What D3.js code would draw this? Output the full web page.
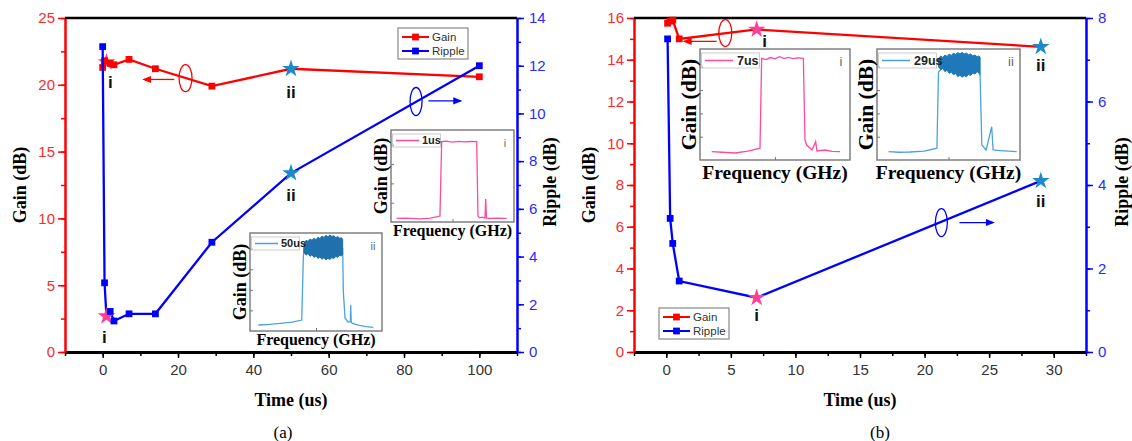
<!DOCTYPE html>
<html>
<head>
<meta charset="utf-8">
<script src="https://cdn.jsdelivr.net/npm/d3@7"></script>
<style>
  body { margin: 0; background: #fff; }
  svg text { font-family: "Liberation Sans", Arial, sans-serif; }
  svg text.serif { font-family: "Liberation Serif", "Times New Roman", serif; font-weight: bold; }
</style>
</head>
<body>
<div id="chart"></div>
<script>
// ---- panel (a) ----
const timeA   = [0, 0.5, 1, 2, 3, 7, 14, 29, 50, 100];
const gainA   = [21.3, 21.8, 21.7, 21.6, 21.5, 21.9, 21.2, 19.9, 21.2, 20.6];
const rippleA = [12.8, 2.9, 1.5, 1.7, 1.3, 1.6, 1.6, 4.6, 7.5, 12.0];
const starTimesA = [1, 50];
const timeTicksA = [0, 20, 40, 60, 80, 100];
const gainTicksA = [0, 5, 10, 15, 20, 25];
const rippleTicksA = [0, 2, 4, 6, 8, 10, 12, 14];

// ---- panel (b) ----
const timeB   = [0.1, 0.3, 0.5, 1, 7, 29];
const gainB   = [15.75, 15.85, 15.9, 15.0, 15.45, 14.62];
const rippleB = [7.5, 3.2, 2.6, 1.7, 1.3, 4.1];
const starTimesB = [7, 29];
const timeTicksB = [0, 5, 10, 15, 20, 25, 30];
const gainTicksB = [0, 2, 4, 6, 8, 10, 12, 14, 16];
const rippleTicksB = [0, 2, 4, 6, 8];

const starNames = ["i", "ii"];
const seriesNames = ["Gain", "Ripple"];

// ---- inset spectra (relative frequency / relative gain, 0-100) ----
const specAiF = [4.6, 12, 23.6, 32, 39.8, 41.2, 45, 50, 55, 60, 65, 69.7, 70.7, 72, 74, 76.4, 77, 77.6, 80, 86, 94];
const specAiG = [4, 4.3, 3.3, 4.2, 6.5, 87.3, 87.8, 86.9, 87.6, 87.1, 87.5, 87.3, 6.5, 4.5, 5.2, 4.3, 25, 4.3, 3.8, 4.2, 4];

const specAiiF = [6.3, 15, 22.7, 32, 39.2, 40.4, 40.9, 45, 50, 55, 60, 65, 70.2, 70.7, 72, 74.2, 76, 76.3, 76.7, 77.3, 82, 88, 93.4];
const specAiiG = [6.1, 6.8, 7.7, 9, 11.2, 75, 85, 86, 84, 85, 86, 85, 84, 40, 13.3, 9.2, 9.5, 26.5, 9.5, 8, 6, 4.5, 3.8];
const bandAiiF  = [40.9, 42.5, 44, 45.5, 47, 48.5, 50, 51.5, 53, 54.5, 56, 57.5, 59, 60.5, 62, 63.5, 65, 66.5, 68, 69.2, 70.2];
const bandAiiHi = [89, 92.5, 91.5, 93.8, 92.6, 94.5, 93.2, 95.6, 94.4, 96.8, 95.5, 97.6, 96.2, 97.9, 96.5, 97.2, 95.4, 96.3, 94.6, 95.2, 93.5];
const bandAiiLo = [80, 77.5, 79, 76.2, 77.8, 75, 76.6, 74, 75.6, 73.2, 74.8, 72.6, 74.2, 73, 74.8, 74, 76, 75.2, 77.3, 76.5, 78];

const specBiF = [7.8, 15, 23.3, 32, 40, 41.1, 44, 47, 50, 53, 56, 59, 62, 65, 68.9, 70, 71.1, 74.7, 77.1, 78, 83.3, 88, 93.3];
const specBiG = [7.5, 7, 6.3, 8, 10.6, 91.6, 90.5, 92.3, 91.2, 93, 91.4, 92.4, 91.3, 92, 91.6, 18, 13.5, 9, 16.5, 8.1, 9, 7.8, 7.5];

const specBiiF = [8.1, 15, 23.2, 33, 41.9, 43, 45, 50, 55, 60, 65, 70, 72.1, 73.3, 76.3, 80.2, 81.2, 86, 92, 97.7];
const specBiiG = [7.5, 7, 7.2, 8, 10.6, 79.3, 82, 83, 82, 81, 82, 83, 76.6, 13.5, 9, 30, 9, 8.5, 8, 7.5];
const bandBiiF  = [43, 44.5, 46, 47.5, 49, 50.5, 52, 53.5, 55, 56.5, 58, 59.5, 61, 62.5, 64, 65.5, 67, 68.5, 70, 71.2, 72.1];
const bandBiiHi = [91.5, 93.6, 92.4, 94.5, 93.3, 95.4, 94.2, 96.3, 95, 96.8, 95.6, 97, 95.5, 96.4, 94.8, 95.6, 93.8, 94.6, 93, 93.8, 92.5];
const bandBiiLo = [84, 81.5, 82.6, 79.6, 80.8, 78, 79.2, 76.8, 78, 75.2, 76.4, 74.5, 76, 75, 77, 76.2, 78.4, 77.5, 79.6, 78.5, 77];

const RED = "#ff0000", BLUE = "#0000ff", PINK = "#ff3f96", STEEL = "#1e88cc";

const svg = d3.select("#chart").append("svg")
    .attr("width", 1132)
    .attr("height", 441);

const defs = svg.append("defs");
[["arrRed", RED], ["arrBlue", BLUE]].forEach(([id, c]) => {
  defs.append("marker").attr("id", id)
      .attr("viewBox", "0 0 10 10").attr("refX", 8).attr("refY", 5)
      .attr("markerWidth", 7).attr("markerHeight", 7).attr("orient", "auto")
    .append("path").attr("d", "M0,1 L10,5 L0,9 Z").attr("fill", c);
});

function styleAxis(sel, color, textColor, width) {
  sel.select(".domain").attr("stroke", color).attr("stroke-width", width);
  sel.selectAll(".tick line").attr("stroke", color).attr("stroke-width", 1.5);
  sel.selectAll(".tick text").attr("fill", textColor).style("font-size", "15px");
}

function drawPanel(p) {
  const g = svg.append("g");
  const x = d3.scaleLinear().domain(p.tDom).range([p.x0, p.x1]);
  const yG = d3.scaleLinear().domain(p.gDom).range([p.y1, p.y0]);
  const yR = d3.scaleLinear().domain(p.rDom).range([p.y1, p.y0]);

  // minor ticks
  g.append("g").attr("transform", "translate(0," + p.y1 + ")")
      .call(d3.axisBottom(x).tickValues(d3.range(p.tDom[0], p.tDom[1] + 1e-6, p.tMinor)).tickSize(4).tickSizeOuter(0).tickFormat(""))
      .call(s => styleAxis(s, "#000", "#333", 0));
  g.append("g").attr("transform", "translate(" + p.x0 + ",0)")
      .call(d3.axisLeft(yG).tickValues(d3.range(p.gDom[0], p.gDom[1] + 1e-6, p.gMinor)).tickSize(4).tickSizeOuter(0).tickFormat(""))
      .call(s => styleAxis(s, RED, RED, 0));
  g.append("g").attr("transform", "translate(" + p.x1 + ",0)")
      .call(d3.axisRight(yR).tickValues(d3.range(p.rDom[0], p.rDom[1] + 1e-6, p.rMinor)).tickSize(4).tickSizeOuter(0).tickFormat(""))
      .call(s => styleAxis(s, BLUE, BLUE, 0));

  // major axes
  g.append("g").attr("transform", "translate(0," + p.y1 + ")")
      .call(d3.axisBottom(x).tickValues(p.tTicks).tickSize(6).tickPadding(6).tickSizeOuter(0))
      .call(s => styleAxis(s, "#000", "#333", 3));
  g.append("g").attr("transform", "translate(" + p.x0 + ",0)")
      .call(d3.axisLeft(yG).tickValues(p.gTicks).tickSize(7).tickPadding(3).tickSizeOuter(0))
      .call(s => styleAxis(s, RED, "#ff2a2a", 2.5));
  g.append("g").attr("transform", "translate(" + p.x1 + ",0)")
      .call(d3.axisRight(yR).tickValues(p.rTicks).tickSize(7).tickPadding(5).tickSizeOuter(0))
      .call(s => styleAxis(s, BLUE, "#2a2aff", 2.5));

  g.append("line")
      .attr("x1", p.x0).attr("x2", p.x1).attr("y1", p.y0).attr("y2", p.y0)
      .attr("stroke", "#000").attr("stroke-width", 2.5);

  // axis titles
  g.append("text").attr("class", "serif")
      .attr("transform", "translate(" + p.gTitleX + ",185) rotate(-90)")
      .attr("text-anchor", "middle").style("font-size", "18px").text("Gain (dB)");
  g.append("text").attr("class", "serif")
      .attr("transform", "translate(" + p.rTitleX + ",182) rotate(-90)")
      .attr("text-anchor", "middle").style("font-size", "18px").text("Ripple (dB)");
  g.append("text").attr("class", "serif")
      .attr("x", p.timeTitleX).attr("y", 406)
      .attr("text-anchor", "middle").style("font-size", "18px").text("Time (us)");
  g.append("text").attr("class", "serif")
      .attr("x", p.tagX).attr("y", 438).style("font-weight", "normal")
      .attr("text-anchor", "middle").style("font-size", "17px").text(p.tag);

  const rowsG = p.time.map((t, i) => ({t: t, v: p.gain[i]}));
  const rowsR = p.time.map((t, i) => ({t: t, v: p.ripple[i]}));
  const sq = d3.symbol().type(d3.symbolSquare).size(46);
  const star = d3.symbol().type(d3.symbolStar).size(95);

  [[rowsG, yG, RED], [rowsR, yR, BLUE]].forEach(([rows, y, c]) => {
    g.append("path").datum(rows)
        .attr("fill", "none").attr("stroke", c).attr("stroke-width", 2.3)
        .attr("d", d3.line().x(d => x(d.t)).y(d => y(d.v)));
    g.selectAll(null)
        .data(rows.filter(d => p.stars.includes(d.t)))
        .enter().append("path")
        .attr("transform", d => "translate(" + x(d.t) + "," + y(d.v) + ")")
        .attr("d", star)
        .attr("fill", d => p.stars.indexOf(d.t) === 0 ? PINK : STEEL);
    g.selectAll(null)
        .data(rows.filter(d => !p.stars.includes(d.t)))
        .enter().append("path")
        .attr("transform", d => "translate(" + x(d.t) + "," + y(d.v) + ")")
        .attr("d", sq).attr("fill", c);
  });

  // i / ii labels below the stars
  p.stars.forEach((t, k) => {
    const i = p.time.indexOf(t);
    [[yG(p.gain[i]), p.labOffG[k]], [yR(p.ripple[i]), p.labOffR[k]]].forEach(([yy, off]) => {
      g.append("text")
          .attr("x", x(t) + off[0]).attr("y", yy + off[1])
          .attr("text-anchor", "middle")
          .style("font-size", "17px").style("font-weight", "bold").attr("fill", "#111")
          .text(starNames[k]);
    });
  });

  // ellipse + arrow annotations
  g.append("ellipse").attr("cx", x(p.gEll[0])).attr("cy", yG(p.gEll[1]))
      .attr("rx", 6.5).attr("ry", 13.5).attr("fill", "none").attr("stroke", RED).attr("stroke-width", 1.3);
  g.append("line")
      .attr("x1", x(p.gArr[0])).attr("x2", x(p.gArr[1])).attr("y1", yG(p.gArr[2])).attr("y2", yG(p.gArr[2]))
      .attr("stroke", RED).attr("stroke-width", 1.3).attr("marker-end", "url(#arrRed)");
  g.append("ellipse").attr("cx", x(p.rEll[0])).attr("cy", yR(p.rEll[1]))
      .attr("rx", 6).attr("ry", 14).attr("fill", "none").attr("stroke", BLUE).attr("stroke-width", 1.3);
  g.append("line")
      .attr("x1", x(p.rArr[0])).attr("x2", x(p.rArr[1])).attr("y1", yR(p.rArr[2])).attr("y2", yR(p.rArr[2]))
      .attr("stroke", BLUE).attr("stroke-width", 1.3).attr("marker-end", "url(#arrBlue)");

  // legend
  const lg = g.append("g").attr("transform", "translate(" + p.legend[0] + "," + p.legend[1] + ")");
  lg.append("rect").attr("width", 70).attr("height", 31)
      .attr("fill", "#fff").attr("stroke", "#888").attr("stroke-width", 1.2);
  [RED, BLUE].forEach((c, k) => {
    const yy = 9 + k * 14;
    lg.append("line").attr("x1", 4).attr("x2", 31).attr("y1", yy).attr("y2", yy)
        .attr("stroke", c).attr("stroke-width", 2);
    lg.append("path").attr("transform", "translate(17.5," + yy + ")").attr("d", sq).attr("fill", c);
    lg.append("text").attr("x", 34).attr("y", yy + 4)
        .style("font-size", "11.5px").attr("fill", "#333").text(seriesNames[k]);
  });
}

function drawInset(box, f, gv, band, color, bandColor, tag, mark, big) {
  const gi = svg.append("g");
  const fx = d3.scaleLinear().domain([0, 100]).range([box.x, box.x + box.w]);
  const fy = d3.scaleLinear().domain([0, 100]).range([box.y + box.h, box.y]);
  gi.append("rect").attr("x", box.x).attr("y", box.y).attr("width", box.w).attr("height", box.h)
      .attr("fill", "#fff").attr("stroke", "#777").attr("stroke-width", 1.4);
  const ax = gi.append("g").attr("transform", "translate(" + box.x + ",0)")
      .call(d3.axisRight(fy).tickValues([21, 42, 63, 84]).tickSize(3).tickFormat(""));
  ax.select(".domain").remove();
  ax.selectAll("line").attr("stroke", "#777");
  const bx = gi.append("g").attr("transform", "translate(0," + (box.y + box.h) + ")")
      .call(d3.axisTop(fx).tickValues([50]).tickSize(3).tickFormat(""));
  bx.select(".domain").remove();
  bx.selectAll("line").attr("stroke", "#777");

  const rows = f.map((v, i) => ({f: v, g: gv[i]}));
  gi.append("path").datum(rows)
      .attr("fill", "none").attr("stroke", color).attr("stroke-width", 1.3)
      .attr("d", d3.line().x(d => fx(d.f)).y(d => fy(d.g)));
  if (band) {
    const brow = band[0].map((v, i) => ({f: v, hi: band[1][i], lo: band[2][i]}));
    gi.append("path").datum(brow)
        .attr("fill", bandColor).attr("stroke", bandColor).attr("stroke-width", 1)
        .attr("d", d3.area().x(d => fx(d.f)).y0(d => fy(d.lo)).y1(d => fy(d.hi)));
  }

  // legend inside inset
  const fs = big ? 12.5 : 11;
  const lw = big ? 58 : 48, lh = big ? 15 : 13;
  gi.append("rect").attr("x", box.x + 1.5).attr("y", box.y + 4).attr("width", lw).attr("height", lh)
      .attr("fill", "none").attr("stroke", "#ccc").attr("stroke-width", 1);
  gi.append("line").attr("x1", box.x + 5).attr("x2", box.x + (big ? 33 : 28))
      .attr("y1", box.y + 4 + lh / 2).attr("y2", box.y + 4 + lh / 2)
      .attr("stroke", color).attr("stroke-width", 1.5);
  gi.append("text").attr("x", box.x + (big ? 37 : 31)).attr("y", box.y + 4 + lh / 2 + fs * 0.36)
      .style("font-size", fs + "px").style("font-weight", "bold").attr("fill", "#222").text(tag);
  gi.append("text").attr("x", box.x + box.w - 9).attr("y", box.y + 17)
      .attr("text-anchor", "middle").style("font-size", big ? "13px" : "11px").attr("fill", "#666").text(mark);

  gi.append("text").attr("class", "serif")
      .attr("transform", "translate(" + (box.x - 4) + "," + (box.y + box.h / 2) + ") rotate(-90)")
      .attr("text-anchor", "middle").style("font-size", (big ? 21.5 : 18) + "px").text("Gain (dB)");
  gi.append("text").attr("class", "serif")
      .attr("x", box.x + box.w / 2).attr("y", box.y + box.h + (big ? 19 : 14))
      .attr("text-anchor", "middle").style("font-size", (big ? 19.5 : 16) + "px").text("Frequency (GHz)");
}

drawPanel({
  time: timeA, gain: gainA, ripple: rippleA, stars: starTimesA,
  tDom: [-10, 110], gDom: [0, 25], rDom: [0, 14],
  tTicks: timeTicksA, gTicks: gainTicksA, rTicks: rippleTicksA,
  tMinor: 10, gMinor: 2.5, rMinor: 1,
  x0: 65, x1: 517, y0: 18, y1: 352,
  gTitleX: 26, rTitleX: 556, timeTitleX: 291, tagX: 283, tag: "(a)",
  labOffG: [[4, 26], [0, 29]], labOffR: [[-2, 27], [0, 28]],
  gEll: [22, 20.5], gArr: [19, 11, 20.4],
  rEll: [83.2, 10.5], rArr: [86.5, 95, 10.53],
  legend: [398, 28]
});

drawPanel({
  time: timeB, gain: gainB, ripple: rippleB, stars: starTimesB,
  tDom: [-2.5, 32.5], gDom: [0, 16], rDom: [0, 8],
  tTicks: timeTicksB, gTicks: gainTicksB, rTicks: rippleTicksB,
  tMinor: 2.5, gMinor: 1, rMinor: 1,
  x0: 634, x1: 1086, y0: 18, y1: 352,
  gTitleX: 595, rTitleX: 1128, timeTitleX: 860, tagX: 880, tag: "(b)",
  labOffG: [[8, 18], [0, 24]], labOffR: [[0, 23], [0, 26]],
  gEll: [4.57, 15.28], gArr: [3.9, 1.4, 14.88],
  rEll: [21.3, 3.1], rArr: [22.7, 25.3, 3.1],
  legend: [659, 308]
});

drawInset({x: 391, y: 130, w: 123, h: 92}, specAiF, specAiG, null, "#ff4a9e", null, "1us", "i", false);
drawInset({x: 250, y: 233, w: 132, h: 98}, specAiiF, specAiiG, [bandAiiF, bandAiiHi, bandAiiLo], "#4aa3dc", "#1f70ad", "50us", "ii", false);
drawInset({x: 700, y: 49, w: 150, h: 111}, specBiF, specBiG, null, "#ff4a9e", null, "7us", "i", true);
drawInset({x: 877, y: 49, w: 143, h: 111}, specBiiF, specBiiG, [bandBiiF, bandBiiHi, bandBiiLo], "#4aa3dc", "#1f78b8", "29us", "ii", true);
</script>
</body>
</html>
